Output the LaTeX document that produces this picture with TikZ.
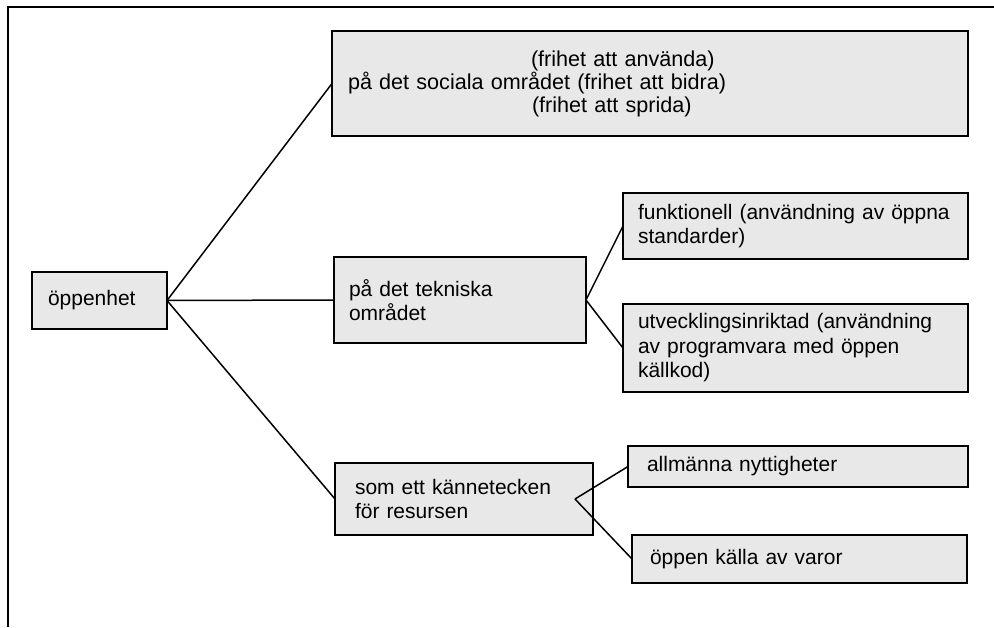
\documentclass[tikz,border=0pt]{standalone}
\usepackage{fontspec}
\setmainfont{Liberation Sans}
\usepackage{tikz}
\usetikzlibrary{positioning,calc}
\definecolor{boxgray}{RGB}{232,232,232}

\begin{document}
\begin{tikzpicture}[x=1pt, y=-1pt,
        every node/.style={draw, line width=1.6pt, fill=boxgray, rectangle,
        anchor=north west, outer sep=0pt, inner ysep=2pt, align=left,
        font=\fontsize{21}{24.5}\selectfont},
        every path/.style={line width=1.5pt}]
    \useasboundingbox (0,0) rectangle (994,627);
    \draw[line width=1.8pt] (994,7) -- (8,7) -- (8,627);

    \node[inner xsep=16pt, text width=103pt, minimum height=57pt]
        (nodeOppen) at (32,272) {öppenhet};
    \node[inner xsep=16pt, text width=604pt, minimum height=105pt,
        font=\fontsize{21.6}{23}\selectfont]
        (nodeSocial) at (332,31)
        {\hspace*{183pt}(frihet att använda)\\
         på det sociala området (frihet att bidra)\\
         \hspace*{184pt}(frihet att sprida)};
    \node[inner xsep=15pt, text width=222pt, minimum height=86pt]
        (nodeTech) at (334,257) {på det tekniska\\ området};
    \node[inner xsep=15pt, text width=315pt, minimum height=66pt]
        (nodeFunk) at (623,193)
        {funktionell (användning av öppna\\ standarder)};
    \node[inner xsep=15pt, text width=315pt, minimum height=88pt]
        (nodeUtv) at (623,304)
        {utvecklingsinriktad (användning\\ av programvara med öppen\\ källkod)};
    \node[inner xsep=20pt, text width=218pt, minimum height=72pt]
        (nodeKann) at (335,463) {som ett kännetecken\\ för resursen};
    \node[inner xsep=19pt, text width=302pt, minimum height=41pt]
        (nodeAllm) at (628,446) {allmänna nyttigheter};
    \node[inner xsep=18pt, text width=299pt, minimum height=48pt]
        (nodeKalla) at (632,535) {öppen källa av varor};
    \coordinate (kannJoin) at (575,499);

    \draw (nodeOppen.east) -- 
                             (nodeSocial.west);
    \draw (nodeOppen.east) -- 
                             (nodeTech.west);
    \draw (nodeOppen.east) -- 
                             (nodeKann.west);
    \draw (nodeTech.east) -- 
                             (nodeFunk.west);
    \draw (nodeTech.east) -- 
                             (nodeUtv.west);
    \draw (kannJoin) -- 
                             (nodeAllm.west);
    \draw (kannJoin) -- 
                             (nodeKalla.west);
\end{tikzpicture}
\end{document}
